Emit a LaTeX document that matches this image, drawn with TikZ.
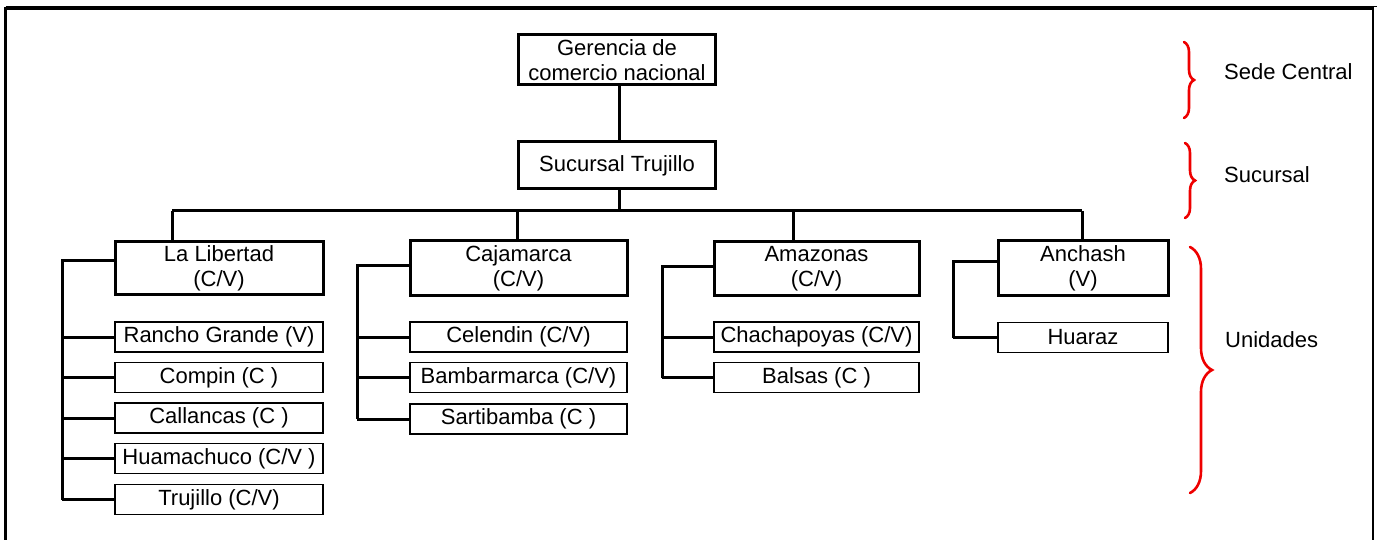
\documentclass[tikz,border=0pt]{standalone}
\usepackage{fontspec}
\setmainfont{Liberation Sans}
\usetikzlibrary{decorations.pathreplacing}
\definecolor{bracered}{RGB}{238,0,0}
\begin{document}
\begin{tikzpicture}[x=1pt,y=-1pt,
  every node/.style={font=\fontsize{22}{25}\selectfont, inner sep=0pt, align=center},
  headbox/.style={draw, line width=3pt, minimum height=#1},
  headbox/.default=54,
  unitbox/.style={draw, line width=1.8pt, minimum height=30},
  conn/.style={line width=3pt},
  lvlbrace/.style={draw=bracered, line width=2.6pt, line cap=round,
    decorate, decoration={brace, amplitude=#1, aspect=0.5}},
  lvltext/.style={anchor=west}]
\useasboundingbox (0,0) rectangle (1377,540);

% outer frame (open at the bottom)
\draw[line width=1.2pt] (5.5,6.5) -- (1377,6.5);
\draw[line width=2.6pt] (5.5,540) -- (5.5,8.5) -- (1373,8.5) -- (1373,540);

% head office and branch
\node[headbox=50, minimum width=197] (ger) at (617,60) {Gerencia de\\comercio nacional};
\node[headbox=47, minimum width=197] (suc) at (617,165.5) {Sucursal Trujillo};

% regions
\node[headbox=53, minimum width=208] (lib) at (219,268.5) {La Libertad\\(C/V)};
\node[headbox=55, minimum width=217] (caj) at (518.5,268.5) {Cajamarca\\(C/V)};
\node[headbox=54, minimum width=205] (ama) at (816.5,268.5) {Amazonas\\(C/V)};
\node[headbox=55, minimum width=170] (anc) at (1083,268.5) {Anchash\\(V)};

% units of La Libertad
\node[unitbox, minimum width=208] (lib1) at (219,337) {Rancho Grande (V)};
\node[unitbox, minimum width=208] (lib2) at (219,377.5) {Compin (C )};
\node[unitbox, minimum width=208] (lib3) at (219,418) {Callancas (C )};
\node[unitbox, minimum width=208] (lib4) at (219,458.5) {Huamachuco (C/V )};
\node[unitbox, minimum width=208] (lib5) at (219,499.5) {Trujillo (C/V)};

% units of Cajamarca
\node[unitbox, minimum width=217] (caj1) at (518.5,337) {Celendin (C/V)};
\node[unitbox, minimum width=217] (caj2) at (518.5,377.5) {Bambarmarca (C/V)};
\node[unitbox, minimum width=217] (caj3) at (518.5,419) {Sartibamba (C )};

% units of Amazonas
\node[unitbox, minimum width=205] (ama1) at (816.5,337) {Chachapoyas (C/V)};
\node[unitbox, minimum width=205] (ama2) at (816.5,377.5) {Balsas (C )};

% unit of Anchash
\node[unitbox, minimum width=170] (anc1) at (1083,337.5) {Huaraz};

% connectors: head office -> branch -> bus
\coordinate (trunk) at (619,211);
\coordinate (busL) at (172,211);
\coordinate (busR) at (1082,211);
\coordinate (dCaj) at (517,211);
\coordinate (dAma) at (793,211);
\draw[conn] (trunk |- ger.south) -- (trunk |- suc.north);
\draw[conn] (trunk |- suc.south) -- (trunk);
\draw[conn] (busL) -- (busR);
\draw[conn] (busL) -- (busL |- lib.north);
\draw[conn] (dCaj) -- (dCaj |- caj.north);
\draw[conn] (dAma) -- (dAma |- ama.north);
\draw[conn] (busR) -- (busR |- anc.north);

% spines from each region to its units
\coordinate (spLib) at (62,261);
\draw[conn] (lib.west |- spLib) -- (spLib) -- (spLib |- lib5.west);
\foreach \k in {lib1,lib2,lib3,lib4,lib5}
  \draw[conn] (spLib |- \k.west) -- (\k.west);

\coordinate (spCaj) at (357,266);
\draw[conn] (caj.west |- spCaj) -- (spCaj) -- (spCaj |- caj3.west);
\foreach \k in {caj1,caj2,caj3}
  \draw[conn] (spCaj |- \k.west) -- (\k.west);

\coordinate (spAma) at (662,267);
\draw[conn] (ama.west |- spAma) -- (spAma) -- (spAma |- ama2.west);
\foreach \k in {ama1,ama2}
  \draw[conn] (spAma |- \k.west) -- (\k.west);

\coordinate (spAnc) at (953,262);
\draw[conn] (anc.west |- spAnc) -- (spAnc) -- (spAnc |- anc1.west);
\draw[conn] (spAnc |- anc1.west) -- (anc1.west);

% level braces and labels
\coordinate (bSedeT) at (1184,42);
\coordinate (bSedeB) at (1184,118);
\coordinate (bSucT) at (1185,143);
\coordinate (bSucB) at (1185,218);
\coordinate (bUniT) at (1190,247);
\coordinate (bUniB) at (1190,493);
\draw[lvlbrace=10pt] (bSedeT) -- (bSedeB);
\draw[lvlbrace=10pt] (bSucT) -- (bSucB);
\draw[lvlbrace=22pt] (bUniT) -- (bUniB);
\node[lvltext] (tSede) at (1224,72) {Sede Central};
\node[lvltext] (tSuc) at (1224,175) {Sucursal};
\node[lvltext] (tUni) at (1225,340) {Unidades};
\end{tikzpicture}
\end{document}
